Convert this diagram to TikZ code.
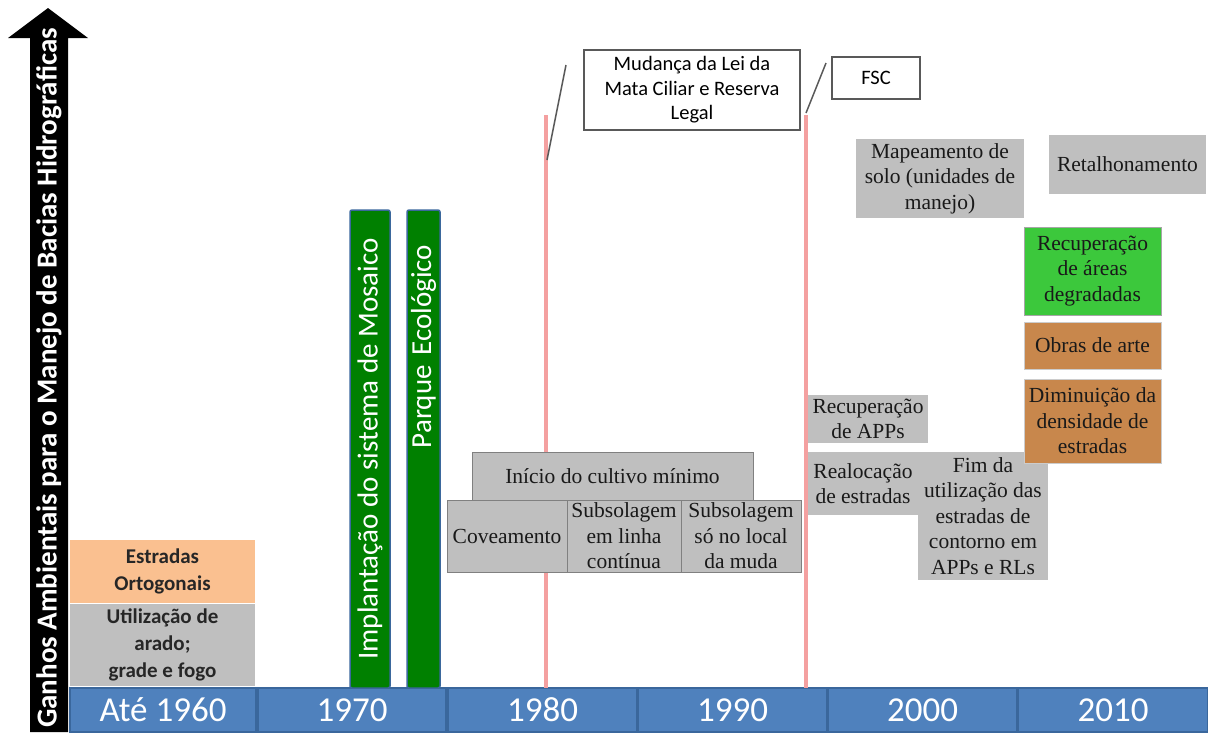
\documentclass[tikz,border=0pt]{standalone}
\usepackage{fontspec}
\setmainfont{Liberation Serif}
\newfontfamily\calib{Carlito}
\usepackage{tikz}
\definecolor{barblue}{HTML}{4F81BD}
\definecolor{barline}{HTML}{3A679C}
\definecolor{boxgray}{HTML}{BFBFBF}
\definecolor{peach}{HTML}{FAC090}
\definecolor{darkgreen}{HTML}{008000}
\definecolor{brightgreen}{HTML}{3CC83C}
\definecolor{rust}{HTML}{C8874C}
\definecolor{pinkline}{HTML}{F4A0A0}
\definecolor{calloutgray}{HTML}{595959}
\tikzset{yearbox/.style={fill=barblue, draw=barline, line width=1.5pt, inner sep=0pt,
           minimum height=44pt, text=white, font=\calib\fontsize{35}{40}\selectfont},
         graybox/.style={fill=boxgray, inner sep=1pt, align=center, text=black!90,
           font=\fontsize{21.5}{25.5}\selectfont},
         linedbox/.style={graybox, draw=gray, line width=0.8pt},
         leftbox/.style={inner sep=0pt, align=center, text=black!85,
           font=\calib\bfseries\fontsize{21}{27}\selectfont, minimum width=185pt},
         greenbar/.style={fill=darkgreen, draw=barline, line width=1.5pt, rotate=90,
           rounded corners=2pt, inner sep=0pt, minimum width=478pt, text=white,
           font=\calib\fontsize{29}{34}\selectfont},
         callout/.style={draw=calloutgray, line width=1.5pt, fill=white, align=center,
           inner sep=0pt, font=\calib\fontsize{20.5}{24.5}\selectfont},
         calloutline/.style={draw=calloutgray, line width=1.5pt},
         redline/.style={draw=pinkline, line width=4pt}}

\begin{document}
\begin{tikzpicture}[x=1pt, y=-1pt]
\useasboundingbox (0,0) rectangle (1208,732);
\fill[black] (30,732) -- (30,38) -- (8,38) -- (48,8) -- (88,38) -- (68,38) -- (68,732) -- cycle;
\node[rotate=90, text=white, font=\calib\bfseries\fontsize{29}{34}\selectfont] (eixo) at (49,378)
  {Ganhos Ambientais para o Manejo de Bacias Hidrográficas};
\foreach \lbl/\cx/\w [count=\i] in {Até 1960/163/186, 1970/352/188, 1980/542.5/189,
    1990/732.5/189, 2000/922.5/189, 2010/1113/190}
  \node[yearbox, minimum width=\w pt] (ano\i) at (\cx,710) {\lbl};
\node[leftbox, fill=peach, minimum height=63pt] (estradas) at (162.5,571.5) {Estradas\\Ortogonais};
\node[leftbox, fill=boxgray, minimum height=82pt] (arado) at (162.5,645) {Utilização de\\arado;\\grade e fogo};
\node[greenbar, minimum height=40pt] (mosaico) at (370,449) {Implantação do sistema de Mosaico};
\node[greenbar, minimum height=33pt, inner xsep=35pt, text width=408pt, align=right] (parque) at (423.5,449) {Parque Ecológico};
\coordinate (r80a) at (546,115);
\coordinate (r80b) at (546,688);
\coordinate (r95a) at (806,115);
\coordinate (r95b) at (806,688);
\draw[redline] (r80a) -- (r80b);
\draw[redline] (r95a) -- (r95b);
\node[callout, minimum width=216pt, minimum height=80pt] (lei) at (692,90) {Mudança da Lei da\\Mata Ciliar e Reserva\\Legal};
\node[callout, minimum width=88pt, minimum height=42pt] (fsc) at (876,78) {FSC};
\coordinate (leiA) at (547,160);
\coordinate (leiB) at (566,65);
\coordinate (fscA) at (806,113);
\coordinate (fscB) at (826,63);
\draw[calloutline] (leiA) -- (leiB);
\draw[calloutline] (fscA) -- (fscB);
\node[linedbox, minimum width=281pt, minimum height=48pt] (cultivo) at (612.5,476) {Início do cultivo mínimo};
\node[linedbox, minimum width=120pt, minimum height=72pt] (coveamento) at (507,536) {Coveamento};
\node[linedbox, minimum width=114pt, minimum height=72pt] (sublinha) at (624,536) {Subsolagem\\em linha\\contínua};
\node[linedbox, minimum width=120pt, minimum height=72pt] (sublocal) at (741,536) {Subsolagem\\só no local\\da muda};
\node[graybox, minimum width=120pt, minimum height=48pt] (recapp) at (868,419) {Recuperação\\de APPs};
\node[graybox, minimum width=110pt, minimum height=63pt] (realoc) at (863,483.5) {Realocação\\de estradas};
\node[graybox, minimum width=130pt, minimum height=128pt] (fim) at (983,516) {Fim da\\utilização das\\estradas de\\contorno em\\APPs e RLs};
\node[graybox, minimum width=168pt, minimum height=79pt] (mapa) at (940,178.5) {Mapeamento de\\solo (unidades de\\manejo)};
\node[graybox, minimum width=157pt, minimum height=59pt] (retalho) at (1127.5,164.5) {Retalhonamento};
\node[linedbox, fill=brightgreen, draw=gray!70, minimum width=137pt, minimum height=88pt] (recareas) at (1092.5,271) {Recuperação\\de áreas\\degradadas};
\node[linedbox, fill=rust, draw=gray!40, minimum width=137pt, minimum height=47pt] (obras) at (1092.5,345.5) {Obras de arte};
\node[linedbox, fill=rust, draw=gray!40, minimum width=137pt, minimum height=84pt] (diminui) at (1092.5,421) {Diminuição da\\densidade de\\estradas};
\end{tikzpicture}
\end{document}
